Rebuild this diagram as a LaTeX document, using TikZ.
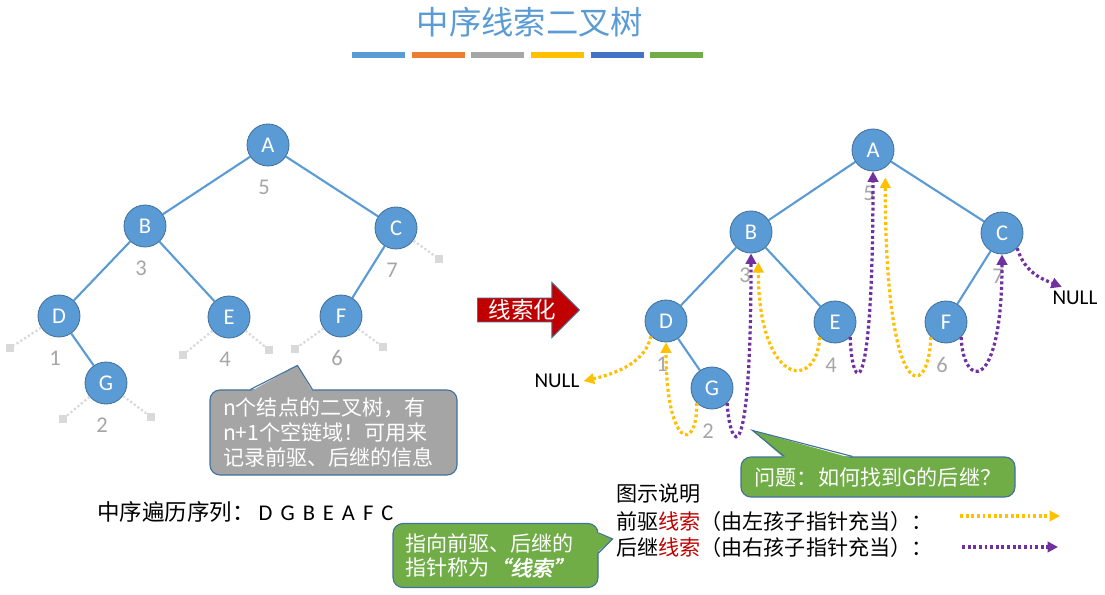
\documentclass[tikz,border=0pt]{standalone}
\usepackage{fontspec}
\setmainfont{Carlito}
\newfontfamily\cjk{Noto Sans CJK SC}
\newfontfamily\cjkbi[FakeBold=2,FakeSlant=0.2]{Noto Sans CJK SC}
\usetikzlibrary{arrows.meta,positioning,shapes.arrows,calc}
\definecolor{treeblue}{RGB}{91,155,213}
\definecolor{treeborder}{RGB}{65,113,156}
\definecolor{ordergray}{RGB}{166,166,166}
\definecolor{stubgray}{RGB}{217,217,217}
\definecolor{threadorange}{RGB}{255,192,0}
\definecolor{threadpurple}{RGB}{112,48,160}
\definecolor{notered}{RGB}{192,0,0}
\definecolor{notegreen}{RGB}{112,173,71}
\definecolor{notegray}{RGB}{165,165,165}
\definecolor{barorange}{RGB}{237,125,49}
\definecolor{bardarkblue}{RGB}{68,114,196}
\tikzset{
  treenode/.style={
    circle,
    on grid,
    draw=treeborder,
    fill=treeblue,
    line width=0.6pt,
    minimum size=10.5mm,
    inner sep=0pt,
    text=white,
    font=\fontsize{16}{19}\selectfont
  },
  ordernum/.style={on grid, inner sep=0pt, text=ordergray, font=\fontsize{16}{19}\selectfont},
  treeedge/.style={draw=treeblue, line width=1.5pt},
  nullbox/.style={on grid, fill=stubgray, minimum size=2mm, inner sep=0pt},
  nullstub/.style={draw=stubgray, line width=1.6pt, dash pattern=on 1.6pt off 1.6pt},
  nulltext/.style={on grid, inner sep=1mm, font=\fontsize{15}{18}\selectfont},
  predthread/.style={
    draw=threadorange,
    line width=2.3pt,
    dash pattern=on 2.1pt off 1.9pt,
    -{Triangle[length=2.6mm,width=2.6mm]}
  },
  succthread/.style={predthread, draw=threadpurple},
  notebox/.style={
    rounded corners=2.5mm,
    draw=treeborder,
    line width=0.8pt,
    text=white,
    font=\cjk\fontsize{15}{17.5}\selectfont
  },
  graynote/.style={notebox, fill=notegray, align=left, text width=55.25mm, inner xsep=3.25mm, minimum height=21.25mm},
  greennote/.style={notebox, fill=notegreen},
  noteedge/.style={draw=treeborder, line width=0.8pt},
  threadarrow/.style={
    single arrow,
    single arrow head extend=3.9mm,
    single arrow head indent=0pt,
    minimum height=25.5mm,
    inner sep=0.3mm,
    fill=notered,
    draw=treeborder,
    line width=0.6pt,
    text=white,
    font=\cjk\fontsize{16}{17}\selectfont
  },
  colorbar/.style={minimum width=13.25mm, minimum height=1.5mm, inner sep=0pt},
  legendtext/.style={inner sep=0pt, font=\cjk\fontsize{15}{18}\selectfont}
}
\begin{document}
\begin{tikzpicture}[x=0.25mm, y=-0.25mm]
  \useasboundingbox[fill=white] (0,0) rectangle (1105,595);

  \node[text=treeblue, font=\cjk\fontsize{23}{26}\selectfont] (title) at (530,22) {中序线索二叉树};
  \node[colorbar, fill=treeblue, anchor=west] (bar1) at (352,55) {};
  \node[colorbar, fill=barorange, right=1.5mm of bar1] (bar2) {};
  \node[colorbar, fill=ordergray, right=1.5mm of bar2] (bar3) {};
  \node[colorbar, fill=threadorange, right=1.5mm of bar3] (bar4) {};
  \node[colorbar, fill=bardarkblue, right=1.5mm of bar4] (bar5) {};
  \node[colorbar, fill=notegreen, right=1.5mm of bar5] (bar6) {};

  \node[treenode] (lA) at (268,145) {A};
  \node[treenode, below left=20.25mm and 30.75mm of lA] (lB) {B};
  \node[treenode, below right=20.75mm and 32mm of lA] (lC) {C};
  \node[treenode, below left=22.5mm and 21.5mm of lB] (lD) {D};
  \node[treenode, below right=22.75mm and 21mm of lB] (lE) {E};
  \node[treenode, below left=22mm and 13.75mm of lC] (lF) {F};
  \node[treenode, below right=16.75mm and 11.75mm of lD] (lG) {G};

  \node[ordernum, below=10.5mm of lA, xshift=-1mm] (lnA) {5};
  \node[ordernum, below=10.5mm of lB, xshift=-1mm] (lnB) {3};
  \node[ordernum, below=10.5mm of lC, xshift=-1mm] (lnC) {7};
  \node[ordernum, below=10.5mm of lD, xshift=-1mm] (lnD) {1};
  \node[ordernum, below=10.5mm of lE, xshift=-1mm] (lnE) {4};
  \node[ordernum, below=10.5mm of lF, xshift=-1mm] (lnF) {6};
  \node[ordernum, below=10.5mm of lG, xshift=-1mm] (lnG) {2};

  \node[nullbox, below right=7.75mm and 10.75mm of lC] (lCr) {};
  \node[nullbox, below left=8mm and 12.25mm of lD] (lDl) {};
  \node[nullbox, below left=9.5mm and 11.5mm of lE] (lEl) {};
  \node[nullbox, below right=8.25mm and 10mm of lE] (lEr) {};
  \node[nullbox, below left=8.25mm and 11.5mm of lF] (lFl) {};
  \node[nullbox, below right=7.75mm and 10.5mm of lF] (lFr) {};
  \node[nullbox, below left=9mm and 10.75mm of lG] (lGl) {};
  \node[nullbox, below right=8.5mm and 11.25mm of lG] (lGr) {};

  \draw[treeedge] (lA) -- (lB);
  \draw[treeedge] (lA) -- (lC);
  \draw[treeedge] (lB) -- (lD);
  \draw[treeedge] (lB) -- (lE);
  \draw[treeedge] (lC) -- (lF);
  \draw[treeedge] (lD) -- (lG);

  \draw[nullstub] (lC) -- (lCr);
  \draw[nullstub] (lD) -- (lDl);
  \draw[nullstub] (lE) -- (lEl);
  \draw[nullstub] (lE) -- (lEr);
  \draw[nullstub] (lF) -- (lFl);
  \draw[nullstub] (lF) -- (lFr);
  \draw[nullstub] (lG) -- (lGl);
  \draw[nullstub] (lG) -- (lGr);

  \node[graynote] (emptylinks) at (333.5,432.5) {n个结点的二叉树，有\\n+1个空链域！可用来\\记录前驱、后继的信息};
  \fill[notegray] ($(emptylinks.north west)+(10.25mm,-0.5mm)$) -- ($(emptylinks.north west)+(22mm,6mm)$) -- ($(emptylinks.north west)+(25.75mm,-0.5mm)$) -- cycle;
  \draw[noteedge] ($(emptylinks.north west)+(10.25mm,0)$) -- ($(emptylinks.north west)+(22mm,6mm)$) -- ($(emptylinks.north west)+(25.75mm,0)$);

  \node[anchor=west, inner sep=0pt, font=\fontsize{16}{19}\selectfont] (inorder) at (97,512) {{\cjk 中序遍历序列：}\hspace{1mm}D\hspace{2mm}G\hspace{2mm}B\hspace{2mm}E\hspace{2mm}A\hspace{2mm}F\hspace{2mm}C};

  \node[threadarrow, anchor=tail] (threading) at (477,310) {线索化};

  \node[treenode] (rA) at (873,150) {A};
  \node[treenode, below left=20.5mm and 30.5mm of rA] (rB) {B};
  \node[treenode, below right=20.75mm and 32.25mm of rA] (rC) {C};
  \node[treenode, below left=22.25mm and 21.25mm of rB] (rD) {D};
  \node[treenode, below right=22.5mm and 21mm of rB] (rE) {E};
  \node[treenode, below left=22.25mm and 14mm of rC] (rF) {F};
  \node[treenode, below right=16.75mm and 11.5mm of rD] (rG) {G};

  \node[ordernum, below=10.75mm of rA, xshift=-1mm] (rnA) {5};
  \node[ordernum, below=10.75mm of rB, xshift=-1.5mm] (rnB) {3};
  \node[ordernum, below=10.75mm of rC, xshift=-1mm] (rnC) {7};
  \node[ordernum, below=10.75mm of rD, xshift=-1mm] (rnD) {1};
  \node[ordernum, below=10.75mm of rE, xshift=-1mm] (rnE) {4};
  \node[ordernum, below=10.75mm of rF, xshift=-1mm] (rnF) {6};
  \node[ordernum, below=10.75mm of rG, xshift=-1mm] (rnG) {2};

  \node[nulltext, below left=15mm and 27.25mm of rD] (rnullL) {NULL};
  \node[nulltext, below right=16.25mm and 18.25mm of rC] (rnullR) {NULL};

  \draw[treeedge] (rA) -- (rB);
  \draw[treeedge] (rA) -- (rC);
  \draw[treeedge] (rB) -- (rD);
  \draw[treeedge] (rB) -- (rE);
  \draw[treeedge] (rC) -- (rF);
  \draw[treeedge] (rD) -- (rG);

  \draw[predthread] (rD.225) .. controls +(-5,25) and +(35,-8) .. (rnullL.east);
  \draw[predthread] (rG.225) .. controls +(0,52) and +(0,104) .. (rD.south);
  \draw[succthread] (rG.315) .. controls +(3,48) and +(0,225) .. (rB.south);
  \draw[predthread, shorten >=2.5mm] (rE.225) .. controls +(-4,56) and +(0,132) .. (rB.290);
  \draw[succthread] (rE.315) .. controls +(2,56) and +(0,240) .. (rA.south);
  \draw[predthread, shorten >=2.5mm] (rF.225) .. controls +(-2,64) and +(0,240) .. (rA.305);
  \draw[succthread] (rF.315) .. controls +(2,52) and +(0,140) .. (rC.south);
  \draw[succthread] (rC.315) .. controls +(8,25) and +(-20,-8) .. (rnullR.140);

  \node[greennote, minimum width=68.5mm, minimum height=10mm] (question) at (878,477) {问题：如何找到G的后继？};
  \fill[notegreen] ($(question.north west)+(11mm,-0.5mm)$) -- ($(question.north west)+(3mm,6.5mm)$) -- ($(question.north west)+(28mm,-0.5mm)$) -- cycle;
  \draw[noteedge] ($(question.north west)+(11mm,0)$) -- ($(question.north west)+(3mm,6.5mm)$) -- ($(question.north west)+(28mm,0)$);

  \node[greennote, align=left, text width=45.25mm, inner xsep=3mm, minimum height=16mm] (threadname) at (495.5,555.5) {指向前驱、后继的\\指针称为{\cjkbi “线索”}};
  \fill[notegreen] ($(threadname.north east)+(-0.5mm,-2.5mm)$) -- ($(threadname.north east)+(3.5mm,-4mm)$) -- ($(threadname.north east)+(-0.5mm,-7.5mm)$) -- cycle;
  \draw[noteedge] ($(threadname.north east)+(0,-2.5mm)$) -- ($(threadname.north east)+(3.5mm,-4mm)$) -- ($(threadname.north east)+(0,-7.5mm)$);

  \node[legendtext, anchor=west] (legendtitle) at (616,494) {图示说明};
  \node[legendtext, anchor=west] (predlegend) at (616,521) {前驱\textcolor{notered}{线索}（由左孩子指针充当）：};
  \node[legendtext, anchor=west] (succlegend) at (616,547) {后继\textcolor{notered}{线索}（由右孩子指针充当）：};
  \coordinate (predfrom) at (960,516);
  \coordinate (predto) at (1060,516);
  \coordinate (succfrom) at (962,547);
  \coordinate (succto) at (1058,547);
  \draw[predthread] (predfrom) -- (predto);
  \draw[succthread] (succfrom) -- (succto);
\end{tikzpicture}
\end{document}
